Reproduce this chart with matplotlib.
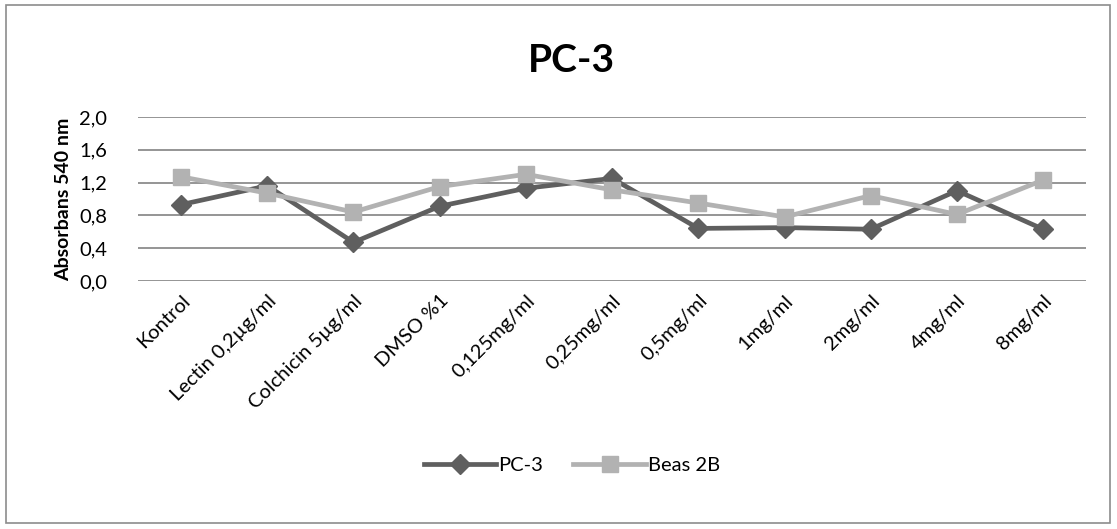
import matplotlib.pyplot as plt
from matplotlib.patches import Rectangle
from matplotlib.ticker import FuncFormatter

plt.rcParams['font.family'] = ['Lato', 'DejaVu Sans']

categories = ["Kontrol", "Lectin 0,2µg/ml", "Colchicin 5µg/ml", "DMSO %1",
              "0,125mg/ml", "0,25mg/ml", "0,5mg/ml", "1mg/ml", "2mg/ml",
              "4mg/ml", "8mg/ml"]
pc3 = [0.93, 1.16, 0.47, 0.91, 1.13, 1.25, 0.64, 0.65, 0.63, 1.10, 0.63]
beas2b = [1.27, 1.07, 0.84, 1.15, 1.30, 1.11, 0.95, 0.78, 1.04, 0.81, 1.23]
yticks = [0.0, 0.4, 0.8, 1.2, 1.6, 2.0]

fig = plt.figure(figsize=(11.17, 5.29), dpi=100)
ax = fig.add_axes([0.1235, 0.469, 0.849, 0.310])

x = range(len(categories))
ax.plot(x, pc3, color='#5f5f5f', lw=3.4, marker='D', ms=10,
        label='PC-3', zorder=3)
ax.plot(x, beas2b, color='#b2b2b2', lw=3.4, marker='s', ms=12,
        label='Beas 2B', zorder=3)

ax.set_xlim(-0.5, len(categories) - 0.5)
ax.set_ylim(0, 2.0)
ax.set_yticks(yticks)
ax.yaxis.set_major_formatter(FuncFormatter(lambda v, p: f"{v:.1f}".replace('.', ',')))
ax.grid(axis='y', color='#8c8c8c', lw=1.3)
ax.set_axisbelow(True)
for s in ax.spines.values():
    s.set_visible(False)
ax.tick_params(axis='x', length=0, labelsize=14.5, pad=8)
ax.tick_params(axis='y', length=0, labelsize=14.5, pad=22)
ax.set_xticks(list(x))
ax.set_xticklabels(categories, rotation=45, ha='right', rotation_mode='anchor')
ax.set_ylabel("Absorbans 540 nm", fontsize=14, fontweight='bold', labelpad=5)

fig.text(0.512, 0.885, "PC-3", ha='center', va='center', fontsize=28,
         fontweight='bold')

fig.legend(loc='center', bbox_to_anchor=(0.512, 0.12), ncol=2, frameon=False,
           fontsize=14.5, handlelength=3.6, columnspacing=1.5, handletextpad=0.1)

fig.patches.append(Rectangle((0.005, 0.012), 0.989, 0.978, transform=fig.transFigure,
                             fill=False, edgecolor='#8c8c8c', lw=1.2))

fig.savefig('out.png', dpi=100)
